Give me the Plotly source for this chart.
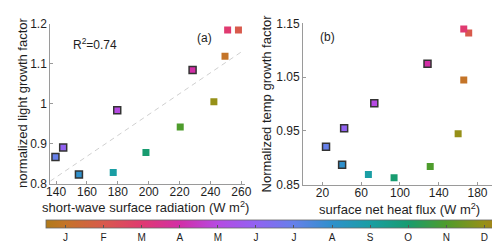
import numpy as np
import plotly.graph_objects as go

# ---- data ----
months = ["J", "F", "M", "A", "M", "J", "J", "A", "S", "O", "N", "D"]
month_num = list(range(1, 13))

sw_radiation = [249.4, 258.1, 251.1, 228.4, 179.6, 144.6, 139.6, 154.8, 177.0, 198.2, 220.4, 242.2]
light_factor = [1.119, 1.185, 1.185, 1.085, 0.984, 0.891, 0.867, 0.823, 0.828, 0.878, 0.942, 1.005]

heat_flux = [165.8, 170.9, 165.8, 128.4, 73.5, 42.4, 23.7, 40.3, 67.4, 93.9, 131.2, 160.0]
temp_factor = [1.045, 1.1325, 1.1395, 1.075, 1.0014, 0.955, 0.9207, 0.887, 0.8688, 0.8628, 0.884, 0.9447]

outlined = [False, False, False, True, True, True, True, True, False, False, False, False]

month_colors = ["#c47428", "#d85a4c", "#e03a70", "#d22ea6", "#b64ae2", "#9262f2",
                "#6680ea", "#2f90cc", "#1a9ea4", "#189c70", "#4e9c2c", "#969018"]
end_color = "#b07a1a"

# ---- styling helpers ----
FONT = "Liberation Sans, Arial, Helvetica, sans-serif"
TXT = "#1e1e1e"
AX = "#9a9a9a"

colorscale = [[0.0, end_color]]
for i, c in enumerate(month_colors):
    colorscale.append([(i + 0.5) / 12, c])
colorscale.append([1.0, end_color])

line_w = [1.5 if o else 0 for o in outlined]
line_c = ["#333333" if o else "rgba(0,0,0,0)" for o in outlined]

fig = go.Figure()

# regression line for panel (a)
slope, intercept = np.polyfit(sw_radiation, light_factor, 1)
xa_range = [136.2, 262.5]
fit_x = np.array([xa_range[0], 261.0])
fig.add_trace(go.Scatter(x=fit_x, y=slope * fit_x + intercept, mode="lines",
                         line=dict(color="#cfcfcf", width=1, dash="5px,4px"),
                         xaxis="x", yaxis="y", showlegend=False, hoverinfo="skip"))

fig.add_trace(go.Scatter(
    x=sw_radiation, y=light_factor, mode="markers", xaxis="x", yaxis="y",
    showlegend=False,
    marker=dict(symbol="square", size=7, color=month_num, colorscale=colorscale,
                cmin=0.5, cmax=12.5, line=dict(width=line_w, color=line_c),
                showscale=True,
                colorbar=dict(orientation="h", x=268.3 / 500, xanchor="center",
                              y=1 - 218 / 244, yanchor="top", len=456.7, lenmode="pixels",
                              thickness=8, thicknessmode="pixels", xpad=0, ypad=0,
                              outlinewidth=0.8, outlinecolor="#666666",
                              tickvals=month_num, ticktext=months, ticks="inside",
                              ticklen=3, tickcolor="#555555", tickwidth=0.8,
                              tickfont=dict(family=FONT, size=10, color=TXT)))))

fig.add_trace(go.Scatter(
    x=heat_flux, y=temp_factor, mode="markers", xaxis="x2", yaxis="y2",
    showlegend=False,
    marker=dict(symbol="square", size=7, color=month_num, colorscale=colorscale,
                cmin=0.5, cmax=12.5, line=dict(width=line_w, color=line_c),
                showscale=False)))

axis_common = dict(showline=True, linecolor=AX, linewidth=1, mirror=False,
                   showgrid=False, zeroline=False, ticks="inside", ticklen=3,
                   tickcolor=AX, tickwidth=1,
                   tickfont=dict(family=FONT, size=12, color=TXT))

fig.update_layout(
    width=500, height=244,
    margin=dict(l=0, r=0, t=0, b=0),
    paper_bgcolor="white", plot_bgcolor="white",
    font=dict(family=FONT, color=TXT),
    xaxis=dict(domain=[39 / 500, 238 / 500], range=xa_range, ticklabelstandoff=-3,
               tickvals=[140, 160, 180, 200, 220, 240, 260], anchor="y", **axis_common),
    yaxis=dict(domain=[1 - 179 / 244, 1 - 9.5 / 244], range=[0.8, 1.2],
               tickvals=[0.8, 0.9, 1.0, 1.1, 1.2], anchor="x", **axis_common),
    xaxis2=dict(domain=[297 / 500, 494.8 / 500], range=[0, 200], ticklabelstandoff=-3,
                tickvals=[20, 60, 100, 140, 180], anchor="y2", **axis_common),
    yaxis2=dict(domain=[1 - 180 / 244, 1 - 9 / 244], range=[0.85, 1.15],
                tickvals=[0.85, 0.95, 1.05, 1.15], ticktext=["0.85", "0.95", "1.05", "1.15"],
                anchor="x2", **axis_common),
)

def ann(text, x, y, size=13, angle=0):
    fig.add_annotation(text=text, x=x / 500, y=1 - y / 244, xref="paper", yref="paper",
                       xanchor="center", yanchor="middle", showarrow=False,
                       textangle=angle, font=dict(family=FONT, size=size, color=TXT))

ann("short-wave surface radiation (W m<sup>2</sup>)", 136, 204)
ann("surface net heat flux (W m<sup>2</sup>)", 395.5, 206)
ann("normalized light growth factor", 10, 93.5, angle=-90)
ann("Normalized temp growth factor", 260, 94, angle=-90)
ann("R<sup>2</sup>=0.74", 85, 31, size=12)
ann("(a)", 196, 24.5, size=12)
ann("(b)", 322, 23.5, size=12)

fig.write_html("out.html")
